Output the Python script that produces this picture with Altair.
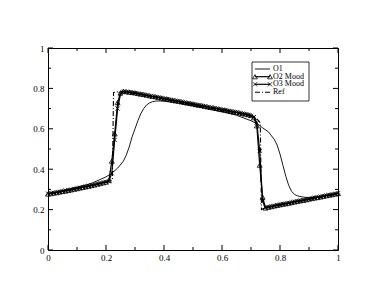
import altair as alt
import pandas as pd

# ---- data ----
x_grid = [0.00, 0.01, 0.02, 0.03, 0.04, 0.05, 0.06, 0.07, 0.08, 0.09,
          0.10, 0.11, 0.12, 0.13, 0.14, 0.15, 0.16, 0.17, 0.18, 0.19,
          0.20, 0.21, 0.22, 0.23, 0.24, 0.25, 0.26, 0.27, 0.28, 0.29,
          0.30, 0.31, 0.32, 0.33, 0.34, 0.35, 0.36, 0.37, 0.38, 0.39,
          0.40, 0.41, 0.42, 0.43, 0.44, 0.45, 0.46, 0.47, 0.48, 0.49,
          0.50, 0.51, 0.52, 0.53, 0.54, 0.55, 0.56, 0.57, 0.58, 0.59,
          0.60, 0.61, 0.62, 0.63, 0.64, 0.65, 0.66, 0.67, 0.68, 0.69,
          0.70, 0.71, 0.72, 0.73, 0.74, 0.75, 0.76, 0.77, 0.78, 0.79,
          0.80, 0.81, 0.82, 0.83, 0.84, 0.85, 0.86, 0.87, 0.88, 0.89,
          0.90, 0.91, 0.92, 0.93, 0.94, 0.95, 0.96, 0.97, 0.98, 0.99,
          1.00]

o2_mood = [0.277, 0.279, 0.282, 0.284, 0.287, 0.290, 0.292, 0.295, 0.298, 0.301,
           0.304, 0.307, 0.310, 0.313, 0.316, 0.319, 0.322, 0.326, 0.329, 0.333,
           0.336, 0.345, 0.440, 0.575, 0.730, 0.778, 0.786, 0.784, 0.782, 0.780,
           0.778, 0.775, 0.772, 0.770, 0.767, 0.764, 0.761, 0.759, 0.756, 0.753,
           0.750, 0.748, 0.745, 0.742, 0.739, 0.737, 0.734, 0.731, 0.728, 0.726,
           0.723, 0.720, 0.717, 0.715, 0.712, 0.709, 0.706, 0.704, 0.701, 0.698,
           0.695, 0.693, 0.690, 0.687, 0.684, 0.682, 0.679, 0.676, 0.673, 0.670,
           0.666, 0.655, 0.615, 0.420, 0.262, 0.208, 0.212, 0.215, 0.218, 0.221,
           0.224, 0.227, 0.229, 0.232, 0.235, 0.238, 0.241, 0.244, 0.246, 0.249,
           0.252, 0.255, 0.258, 0.260, 0.263, 0.266, 0.269, 0.272, 0.274, 0.277,
           0.280]

o3_mood = [0.279, 0.281, 0.283, 0.286, 0.288, 0.291, 0.294, 0.296, 0.299, 0.302,
           0.305, 0.308, 0.311, 0.314, 0.317, 0.320, 0.323, 0.327, 0.330, 0.334,
           0.337, 0.340, 0.380, 0.545, 0.700, 0.772, 0.784, 0.783, 0.781, 0.779,
           0.777, 0.774, 0.771, 0.769, 0.766, 0.763, 0.760, 0.758, 0.755, 0.752,
           0.749, 0.747, 0.744, 0.741, 0.738, 0.736, 0.733, 0.730, 0.727, 0.725,
           0.722, 0.719, 0.716, 0.714, 0.711, 0.708, 0.705, 0.703, 0.700, 0.697,
           0.694, 0.692, 0.689, 0.686, 0.683, 0.681, 0.678, 0.675, 0.672, 0.669,
           0.664, 0.658, 0.630, 0.490, 0.240, 0.210, 0.213, 0.216, 0.219, 0.222,
           0.225, 0.228, 0.230, 0.233, 0.236, 0.239, 0.242, 0.245, 0.247, 0.250,
           0.253, 0.256, 0.259, 0.261, 0.264, 0.267, 0.270, 0.273, 0.275, 0.278,
           0.281]

o1_x = [0.00, 0.05, 0.10, 0.15, 0.20, 0.22, 0.24, 0.26, 0.27, 0.28, 0.29, 0.30,
        0.31, 0.32, 0.33, 0.34, 0.35, 0.36, 0.37, 0.38, 0.40, 0.45, 0.50, 0.55,
        0.60, 0.65, 0.70, 0.72, 0.74, 0.76, 0.78, 0.79, 0.80, 0.81, 0.82, 0.83,
        0.84, 0.85, 0.86, 0.88, 0.90, 0.95, 1.00]
o1_y = [0.278, 0.294, 0.310, 0.330, 0.362, 0.380, 0.405, 0.440, 0.470, 0.510, 0.560, 0.600,
        0.640, 0.675, 0.700, 0.718, 0.728, 0.734, 0.737, 0.738, 0.737, 0.728, 0.715, 0.700,
        0.685, 0.667, 0.640, 0.625, 0.605, 0.585, 0.548, 0.520, 0.475, 0.420, 0.365, 0.320,
        0.290, 0.275, 0.268, 0.262, 0.258, 0.268, 0.280]

ref_x = [0.00, 0.10, 0.20, 0.222, 0.226, 0.25, 0.30, 0.40, 0.50, 0.60, 0.70, 0.72,
         0.732, 0.736, 0.75, 0.80, 0.90, 1.00]
ref_y = [0.278, 0.305, 0.337, 0.345, 0.780, 0.785, 0.775, 0.748, 0.720, 0.693, 0.663, 0.650,
         0.630, 0.200, 0.210, 0.222, 0.250, 0.278]

major_ticks = [0.0, 0.2, 0.4, 0.6, 0.8, 1.0]
minor_ticks = [0.1, 0.3, 0.5, 0.7, 0.9]
series_names = ["O1", "O2 Mood", "O3 Mood", "Ref"]

# ---- chart ----
W, H = 290, 202
FONT = "Liberation Serif"
xs = alt.Scale(domain=[0, 1], nice=False, zero=False)
ys = alt.Scale(domain=[0, 1], nice=False, zero=False)
XMARK = "M-1,-1L1,1M-1,1L1,-1"

ax_x = alt.Axis(values=major_ticks, format="~g", title=None, labelFont=FONT,
                labelFontSize=9, labelColor="black", labelPadding=3,
                ticks=False, domain=False, grid=False, labelFlush=False)
ax_y = alt.Axis(values=major_ticks, format="~g", title=None, labelFont=FONT,
                labelFontSize=9, labelColor="black", labelPadding=4,
                ticks=False, domain=False, grid=False, labelFlush=False)


def xenc(field):
    return alt.X(field, type="quantitative", scale=xs, axis=ax_x)


def yenc(field):
    return alt.Y(field, type="quantitative", scale=ys, axis=ax_y)


grid_df = pd.DataFrame({"x": x_grid, "o2": o2_mood, "o3": o3_mood})
o1_df = pd.DataFrame({"x": o1_x, "y": o1_y})
ref_df = pd.DataFrame({"x": ref_x, "y": ref_y})

o1_line = alt.Chart(o1_df).mark_line(color="black", strokeWidth=0.9).encode(
    x=xenc("x"), y=yenc("y"))

ref_line = alt.Chart(ref_df).mark_line(color="black", strokeWidth=1.1,
                                       strokeDash=[5, 2, 1, 2]).encode(
    x=xenc("x"), y=yenc("y"))

o2_line = alt.Chart(grid_df).mark_line(color="black", strokeWidth=1.2).encode(
    x=xenc("x"), y=yenc("o2"))
o2_pts = alt.Chart(grid_df).mark_point(shape="triangle-up", filled=False, color="black",
                                       size=24, strokeWidth=0.8, opacity=1).encode(
    x=xenc("x"), y=yenc("o2"))

o3_line = alt.Chart(grid_df).mark_line(color="black", strokeWidth=1.2).encode(
    x=xenc("x"), y=yenc("o3"))
o3_pts = alt.Chart(grid_df).mark_point(shape=XMARK, filled=False, color="black",
                                       size=18, strokeWidth=0.8, opacity=1).encode(
    x=xenc("x"), y=yenc("o3"))

# inward ticks on all four sides
tick_layers = []
for vals, ln in ((major_ticks, 5), (minor_ticks, 3)):
    tdf = pd.DataFrame({"t": vals})
    base = alt.Chart(tdf).mark_rule(color="black", strokeWidth=1)
    tick_layers += [
        base.encode(x=xenc("t"), y=alt.value(H), y2=alt.value(H - ln)),
        base.encode(x=xenc("t"), y=alt.value(0), y2=alt.value(ln)),
        base.encode(y=yenc("t"), x=alt.value(0), x2=alt.value(ln)),
        base.encode(y=yenc("t"), x=alt.value(W), x2=alt.value(W - ln)),
    ]

# legend box
one = pd.DataFrame({"a": [0]})
lx0, lx1, tx = 207, 222, 225
ly = [21, 28.7, 36.3, 44.3]
legend_layers = [
    alt.Chart(one).mark_rect(fill="white", stroke="black", strokeWidth=0.8).encode(
        x=alt.value(204), x2=alt.value(261), y=alt.value(14), y2=alt.value(53))
]
for i, name in enumerate(series_names):
    if name == "Ref":
        rule = alt.Chart(one).mark_rule(color="black", strokeWidth=1.1, strokeDash=[5, 2, 1, 2])
    elif name == "O1":
        rule = alt.Chart(one).mark_rule(color="black", strokeWidth=0.9)
    else:
        rule = alt.Chart(one).mark_rule(color="black", strokeWidth=1.2)
    legend_layers.append(rule.encode(x=alt.value(lx0), x2=alt.value(lx1), y=alt.value(ly[i])))
    if name in ("O2 Mood", "O3 Mood"):
        shp = "triangle-up" if name == "O2 Mood" else XMARK
        sz = 24 if name == "O2 Mood" else 18
        for px in (lx0, lx1):
            legend_layers.append(
                alt.Chart(one).mark_point(shape=shp, filled=False, color="black", size=sz,
                                          strokeWidth=0.8, opacity=1).encode(
                    x=alt.value(px), y=alt.value(ly[i])))
    legend_layers.append(
        alt.Chart(pd.DataFrame({"label": [name]})).mark_text(
            align="left", baseline="middle", font=FONT, fontSize=8, color="black").encode(
            x=alt.value(tx), y=alt.value(ly[i]), text="label:N"))

chart = alt.layer(
    o1_line, ref_line, o2_line, o2_pts, o3_line, o3_pts, *tick_layers, *legend_layers
).properties(
    width=W, height=H, autosize=alt.AutoSizeParams(type="none"),
    padding={"left": 40, "top": 40, "right": 28, "bottom": 30},
    background="white",
).configure_view(stroke="black", strokeWidth=1)

chart.save("out.html", embed_options={"renderer": "svg", "actions": False})
